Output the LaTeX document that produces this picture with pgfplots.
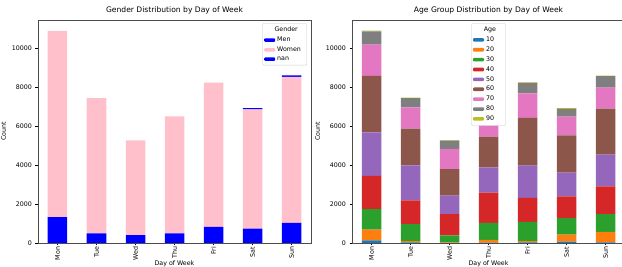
\documentclass[border=0pt]{standalone}
\usepackage{pgfplots}
\pgfplotsset{compat=1.18}
\usepackage{pgfplotstable}
\usepackage{fontspec}
\setmainfont{DejaVu Sans}
\definecolor{c10}{HTML}{1F77B4}
\definecolor{c20}{HTML}{FF7F0E}
\definecolor{c30}{HTML}{2CA02C}
\definecolor{c40}{HTML}{D62728}
\definecolor{c50}{HTML}{9467BD}
\definecolor{c60}{HTML}{8C564B}
\definecolor{c70}{HTML}{E377C2}
\definecolor{c80}{HTML}{7F7F7F}
\definecolor{c90}{HTML}{BCBD22}
\definecolor{mblue}{HTML}{0000FF}
\definecolor{mpink}{HTML}{FFC0CB}
\pgfplotstableread{
x men women nan
0 1330 9570 0
1 490 6960 0
2 400 4870 0
3 490 6020 0
4 830 7410 0
5 740 6130 60
6 1030 7510 70
}\gender
\pgfplotstableread{
x a10 a20 a30 a40 a50 a60 a70 a80 a90
0 140 550 1050 1710 2240 2900 1600 690 30
1 30 70 865 1225 1795 1895 1085 480 20
2 10 25 360 1085 950 1360 1050 415 30
3 20 135 880 1550 1295 1585 640 390 20
4 30 70 985 1240 1655 2450 1260 535 30
5 70 360 845 1120 1225 1915 965 395 35
6 35 535 915 1430 1620 2365 1085 585 35
}\age
\pgfplotsset{
  mystyle/.style={
    scale only axis, width=273pt, height=223pt,
    anchor=south west,
    ybar stacked, bar width=0.5,
    xmin=-0.5, xmax=6.5, ymin=0, ymax=11460,
    xtick=data, xticklabels={Mon,Tue,Wed,Thu,Fri,Sat,Sun},
    xticklabel style={rotate=90, anchor=east, inner sep=1.2pt, font=\fontsize{6.3}{7}\selectfont},
    yticklabel style={font=\fontsize{6.3}{7}\selectfont},
    ytick={0,2000,4000,6000,8000,10000},
    scaled ticks=false,
    /pgf/number format/.cd, set thousands separator={}, assume math mode=true, /pgfplots/.cd,
    tick align=outside, xtick pos=bottom, ytick pos=left,
    major tick length=2.5pt,
    tick style={black, line width=0.4pt},
    axis line style={black!70, line width=0.5pt},
    title style={font=\fontsize{7.6}{8.5}\selectfont, yshift=-3.5pt},
    xlabel style={font=\fontsize{6.3}{7}\selectfont, at={(axis description cs:0.5,0)}, anchor=south, inner sep=0.4pt, yshift=-24pt},
    ylabel style={font=\fontsize{6.3}{7}\selectfont, yshift=-1pt},
    xlabel={Day of Week}, ylabel={Count},
    legend style={font=\fontsize{6.3}{7.5}\selectfont, draw=black!20, rounded corners=1pt,
      inner sep=1.5pt, row sep=-0.3pt, cells={anchor=west}},
    legend image code/.code={\fill[#1] (0pt,-1.8pt) rectangle (11pt,1.8pt);},
  }
}
\begin{document}
\begin{tikzpicture}
\begin{axis}[mystyle, at={(38pt,24pt)},
  title={Gender Distribution by Day of Week},
  legend style={at={(0.985,0.985)}, anchor=north east}]
\addlegendimage{empty legend}
\addlegendentry{\hspace{-8pt}\makebox[34pt][c]{Gender}}
\addplot[fill=mblue, draw=none] table[x=x, y=men] {\gender};
\addlegendentry{Men}
\addplot[fill=mpink, draw=none] table[x=x, y=women] {\gender};
\addlegendentry{Women}
\addplot[fill=mblue, draw=none] table[x=x, y=nan] {\gender};
\addlegendentry{nan}
\end{axis}
\begin{axis}[mystyle, at={(352pt,24pt)},
  title={Age Group Distribution by Day of Week},
  legend style={at={(0.5,0.985)}, anchor=north}]
\addlegendimage{empty legend}
\addlegendentry{\hspace{-8pt}\makebox[24pt][c]{Age}}
\addplot[fill=c10, draw=none] table[x=x, y=a10] {\age};
\addlegendentry{10}
\addplot[fill=c20, draw=none] table[x=x, y=a20] {\age};
\addlegendentry{20}
\addplot[fill=c30, draw=none] table[x=x, y=a30] {\age};
\addlegendentry{30}
\addplot[fill=c40, draw=none] table[x=x, y=a40] {\age};
\addlegendentry{40}
\addplot[fill=c50, draw=none] table[x=x, y=a50] {\age};
\addlegendentry{50}
\addplot[fill=c60, draw=none] table[x=x, y=a60] {\age};
\addlegendentry{60}
\addplot[fill=c70, draw=none] table[x=x, y=a70] {\age};
\addlegendentry{70}
\addplot[fill=c80, draw=none] table[x=x, y=a80] {\age};
\addlegendentry{80}
\addplot[fill=c90, draw=none] table[x=x, y=a90] {\age};
\addlegendentry{90}
\end{axis}
\pgfresetboundingbox
\useasboundingbox (0pt,0pt) rectangle (622pt,267pt);
\end{tikzpicture}
\end{document}
